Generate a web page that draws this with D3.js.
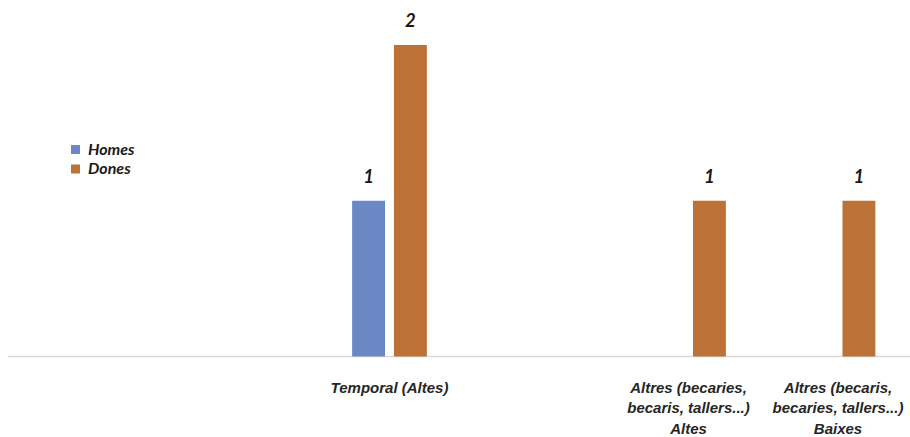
<!DOCTYPE html>
<html>
<head>
<meta charset="utf-8">
<script src="https://cdn.jsdelivr.net/npm/d3@7"></script>
<style>
  html, body { margin: 0; padding: 0; background: #ffffff; }
  svg { display: block; font-family: "Lato", "Carlito", "DejaVu Sans", sans-serif; font-weight: bold; font-style: italic; }
</style>
</head>
<body>
<svg id="chart" width="910" height="437"></svg>
<script>
// Categories on the x axis (blank names are empty slots in the sheet)
const categories = [
  "",
  "",
  "Temporal (Altes)",
  "",
  "Altres (becaries, becaris, tallers...) Altes",
  "Altres (becaris, becaries, tallers...) Baixes"
];
const series = ["Homes", "Dones"];
// Counts per category; null = no value
const homes = [null, null, 1, null, null, null];
const dones = [null, null, 2, null, 1, 1];
const colors = ["#6b88c4", "#bc7237"];

const svg = d3.select("#chart");
const W = 910;
const baseY = 356.5;

const x0 = d3.scaleBand()
  .domain(d3.range(categories.length))
  .range([15.75, 912.75])
  .paddingInner(0.5)
  .paddingOuter(0.25);

const x1 = d3.scaleBand()
  .domain(series)
  .range([0, x0.bandwidth()])
  .paddingInner(9 / 42);

const y = d3.scaleLinear().domain([0, 2]).range([baseY, 45]);

const valuesBySeries = [homes, dones];
const rows = [];
categories.forEach((c, i) => {
  series.forEach((s, k) => {
    const v = valuesBySeries[k][i];
    if (v != null) rows.push({ i, s, k, v });
  });
});

// Horizontal category axis line
svg.append("line")
  .attr("x1", 8).attr("x2", W)
  .attr("y1", baseY).attr("y2", baseY)
  .attr("stroke", "#d9d9d9").attr("stroke-width", 1.5);

// Bars
svg.append("g").selectAll("rect").data(rows).join("rect")
  .attr("x", d => x0(d.i) + x1(d.s))
  .attr("width", x1.bandwidth())
  .attr("y", d => y(d.v))
  .attr("height", d => y(0) - y(d.v))
  .attr("fill", d => colors[d.k]);

// Value labels above bars
svg.append("g").selectAll("text").data(rows).join("text")
  .attr("x", d => x0(d.i) + x1(d.s) + x1.bandwidth() / 2)
  .attr("y", d => y(d.v) - 18)
  .attr("text-anchor", "middle")
  .attr("font-size", 18.5)
  .attr("fill", "#1a1a1a")
  .text(d => d.v);

// Category labels, word-wrapped to the band width
const axis = d3.axisBottom(x0).tickSize(0).tickPadding(0).tickFormat(i => categories[i]);
const gAxis = svg.append("g").attr("transform", `translate(0,${baseY})`).call(axis);
gAxis.select(".domain").remove();
gAxis.selectAll("text")
  .attr("font-size", 15)
  .attr("font-family", null)
  .attr("fill", "#262626")
  .attr("y", 36)
  .attr("dy", null)
  .each(function (i) {
    const t = d3.select(this);
    const words = categories[i].split(/\s+/).filter(Boolean);
    t.text(null);
    const maxW = 145;
    let line = [];
    let tspan = t.append("tspan").attr("x", 0).attr("dy", 0);
    words.forEach(w => {
      line.push(w);
      tspan.text(line.join(" "));
      if (tspan.node().getComputedTextLength() > maxW && line.length > 1) {
        line.pop();
        tspan.text(line.join(" "));
        line = [w];
        tspan = t.append("tspan").attr("x", 0).attr("dy", 20.8).text(w);
      }
    });
  });

// Legend
const legend = svg.append("g");
series.forEach((s, k) => {
  const g = legend.append("g").attr("transform", `translate(71,${145 + k * 19.5})`);
  g.append("rect").attr("width", 9).attr("height", 9).attr("fill", colors[k]);
  g.append("text").attr("x", 17).attr("y", 9.5).attr("font-size", 16).attr("fill", "#1a1a1a").text(s);
});
</script>
</body>
</html>
